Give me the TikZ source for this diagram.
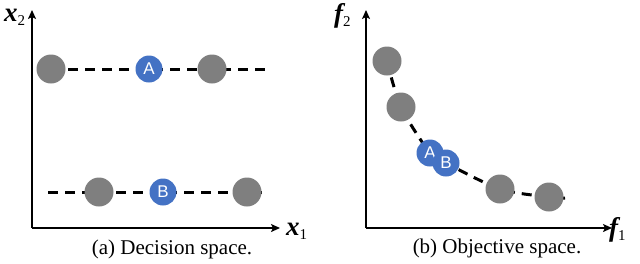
\documentclass[tikz,border=0pt]{standalone}
\usepackage{fontspec}
\setmainfont{Liberation Serif}
\newfontfamily\lblsans{Liberation Sans}
\usetikzlibrary{arrows.meta,backgrounds}
\definecolor{ptgray}{HTML}{7F7F7F}
\definecolor{ptblue}{HTML}{4472C4}
\newcommand{\axlab}[2]{{\bfseries\itshape #1}\raisebox{-4pt}{\fontsize{15}{15}\selectfont #2}}
\tikzset{
  graypt/.style={circle,fill=ptgray,minimum size=29pt,inner sep=0pt},
  bluept/.style={circle,fill=ptblue,minimum size=27pt,inner sep=0pt,text=white,font=\lblsans\fontsize{17}{17}\selectfont},
  axisline/.style={line width=1.6pt,-{Stealth[length=9pt,width=8pt,inset=2pt]}},
  dashline/.style={line width=3pt,dash pattern=on 10pt off 7pt},
  axlabel/.style={font=\fontsize{27}{27}\selectfont,inner sep=0pt,anchor=base west},
  caption/.style={font=\fontsize{21}{21}\selectfont,inner sep=0pt,anchor=base}
}
\begin{document}
\begin{tikzpicture}[x=1pt,y=-1pt]
\useasboundingbox (0,0) rectangle (640,263);
% ---- left panel
\coordinate (o1) at (32,228);
\coordinate (y1) at (32,10);
\coordinate (x1e) at (280,228);
\draw[axisline] (o1) -- (y1);
\draw[axisline] (o1) -- (x1e);
\node[axlabel] (lx2) at (4,21) {\axlab{x}{2}};
\node[axlabel] (lx1) at (286,235) {\axlab{x}{1}};
\node[graypt] (a1) at (51,69) {};
\node[bluept] (A1) at (149,69) {A};
\node[graypt] (a2) at (212,69) {};
\coordinate (ae) at (267,69);
\coordinate (bs) at (48,192);
\node[graypt] (b1) at (99,192) {};
\node[bluept] (B1) at (163,192) {B};
\node[graypt] (b2) at (247,192) {};
\coordinate (be) at (267,192);
\begin{pgfonlayer}{background}
\draw[dashline] (a1.center) -- (ae);
\draw[dashline] (bs) -- (be);
\end{pgfonlayer}
\node[caption] (capa) at (172,254) {(a) Decision space.};
% ---- right panel
\coordinate (o2) at (366,228);
\coordinate (y2) at (366,10);
\coordinate (x2e) at (612,228);
\draw[axisline] (o2) -- (y2);
\draw[axisline] (o2) -- (x2e);
\node[axlabel] (lf2) at (334,22) {\axlab{f}{2}};
\node[axlabel] (lf1) at (609,236) {\axlab{f}{1}};
\node[graypt] (c1) at (387,61) {};
\node[graypt] (c2) at (401,107) {};
\node[bluept] (A2) at (430,153) {A};
\node[bluept] (B2) at (446,163) {B};
\node[graypt] (c3) at (500,189) {};
\node[graypt] (c4) at (549,197) {};
\coordinate (ce) at (565,198);
\begin{pgfonlayer}{background}
\draw[dashline] plot[smooth,tension=0.5] coordinates {(c1.center) (c2.center) (A2.center) (B2.center) (c3.center) (c4.center) (ce)};
\end{pgfonlayer}
\node[caption] (capb) at (497,253) {(b) Objective space.};
\end{tikzpicture}
\end{document}
